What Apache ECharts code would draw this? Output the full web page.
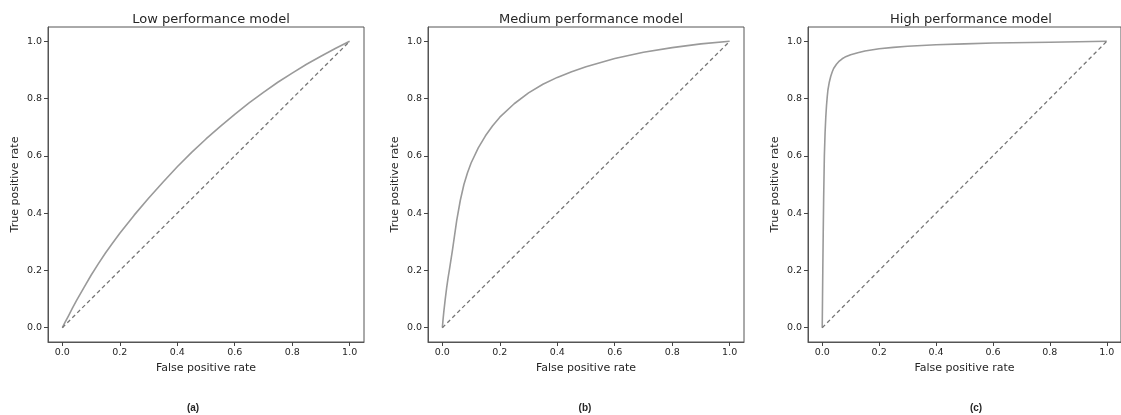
<!DOCTYPE html>
<html>
<head>
<meta charset="utf-8">
<script src="https://cdn.jsdelivr.net/npm/echarts@6/dist/echarts.min.js"></script>
<style>
  html, body { margin: 0; padding: 0; background: #fff; }
  #main { width: 1121px; height: 415px; }
</style>
</head>
<body>
<div id="main"></div>
<script>
// panel titles and captions
var panelTitles = ['Low performance model', 'Medium performance model', 'High performance model'];
var panelCaptions = ['(a)', '(b)', '(c)'];
var tickValues = [0, 0.2, 0.4, 0.6, 0.8, 1.0];

// ROC curves
var lowFpr = [0, 0.01, 0.02, 0.035, 0.05, 0.075, 0.1, 0.125, 0.15, 0.175, 0.2, 0.25, 0.3, 0.35, 0.4, 0.45, 0.5, 0.55, 0.6, 0.65, 0.7, 0.75, 0.8, 0.85, 0.9, 0.95, 1];
var lowTpr = [0, 0.02, 0.039, 0.068, 0.096, 0.14, 0.183, 0.223, 0.261, 0.296, 0.33, 0.393, 0.452, 0.508, 0.562, 0.612, 0.659, 0.703, 0.745, 0.785, 0.822, 0.857, 0.889, 0.92, 0.948, 0.975, 1];

var medFpr = [0, 0.0025, 0.005, 0.01, 0.015, 0.02, 0.025, 0.035, 0.05, 0.0625, 0.075, 0.0875, 0.1, 0.125, 0.15, 0.175, 0.2, 0.25, 0.3, 0.35, 0.4, 0.45, 0.5, 0.6, 0.7, 0.8, 0.9, 1];
var medTpr = [0, 0.03, 0.055, 0.1, 0.14, 0.175, 0.205, 0.27, 0.375, 0.445, 0.5, 0.541, 0.575, 0.628, 0.67, 0.705, 0.735, 0.782, 0.82, 0.85, 0.874, 0.894, 0.911, 0.94, 0.962, 0.978, 0.991, 1];

var highFpr = [0, 0.001, 0.002, 0.0035, 0.005, 0.0075, 0.01, 0.0125, 0.015, 0.0175, 0.02, 0.025, 0.03, 0.035, 0.04, 0.05, 0.06, 0.07, 0.08, 0.1, 0.125, 0.15, 0.2, 0.25, 0.3, 0.4, 0.5, 0.6, 0.8, 1];
var highTpr = [0, 0.1, 0.2, 0.33, 0.45, 0.6, 0.68, 0.735, 0.775, 0.805, 0.83, 0.858, 0.878, 0.893, 0.905, 0.92, 0.931, 0.939, 0.945, 0.953, 0.96, 0.966, 0.974, 0.979, 0.983, 0.988, 0.991, 0.994, 0.997, 1];

// chance line
var chanceX = [0, 1];
var chanceY = [0, 1];

function zip(xs, ys) {
    return xs.map(function (x, i) { return [x, ys[i]]; });
}

var curves = [zip(lowFpr, lowTpr), zip(medFpr, medTpr), zip(highFpr, highTpr)];
var gridLefts = [48, 428, 808];
var captionX = [188, 580, 971];
var textColor = '#262626';
var frameColor = '#555';
var font = 'DejaVu Sans';

var grids = [], xAxes = [], yAxes = [], series = [], titles = [];

function tickAxis(i, name, gap) {
    return {
        type: 'value', gridIndex: i, min: -0.05, max: 1.05,
        name: name, nameLocation: 'middle', nameGap: gap,
        nameTextStyle: { fontFamily: font, fontSize: 11, color: textColor },
        splitLine: { show: false },
        axisLine: { show: true, onZero: false, lineStyle: { color: frameColor, width: 1 } },
        axisTick: { show: true, length: 4, lineStyle: { color: '#444' }, customValues: tickValues },
        axisLabel: {
            customValues: tickValues, margin: 6,
            fontFamily: font, fontSize: 9.5, color: textColor,
            formatter: function (v) { return v.toFixed(1); }
        }
    };
}

gridLefts.forEach(function (left, i) {
    grids.push({
        left: left, top: 27, width: 316, height: 315,
        show: true, borderColor: frameColor, borderWidth: 1, backgroundColor: '#fff'
    });

    xAxes.push(tickAxis(i, 'False positive rate', 20));
    yAxes.push(tickAxis(i, 'True positive rate', 27));

    series.push({
        type: 'line', xAxisIndex: i, yAxisIndex: i,
        data: curves[i], showSymbol: false, symbol: 'none',
        lineStyle: { color: '#9a9a9a', width: 1.6 }
    });
    series.push({
        type: 'line', xAxisIndex: i, yAxisIndex: i,
        data: zip(chanceX, chanceY), showSymbol: false, symbol: 'none',
        lineStyle: { color: '#777', width: 1.3, type: [4, 3] }
    });

    titles.push({
        text: panelTitles[i], left: left + 158, top: 8, textAlign: 'center',
        textStyle: { fontFamily: font, fontSize: 13, fontWeight: 'normal', color: textColor }
    });
    titles.push({
        text: panelCaptions[i], left: captionX[i], top: 398, textAlign: 'center',
        textStyle: { fontFamily: 'Liberation Sans', fontSize: 10, fontWeight: 'bold', color: textColor }
    });
});

var myChart = echarts.init(document.getElementById('main'), null, { renderer: 'canvas' });
myChart.setOption({
    animation: false,
    backgroundColor: '#fff',
    title: titles,
    grid: grids,
    xAxis: xAxes,
    yAxis: yAxes,
    series: series
});
</script>
</body>
</html>
